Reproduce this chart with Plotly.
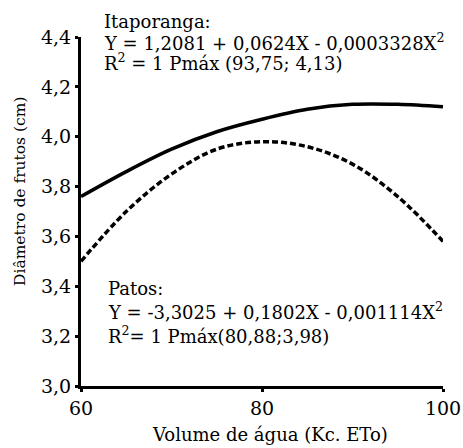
import plotly.graph_objects as go

volume = [60, 65, 70, 75, 80, 85, 90, 95, 100]
itaporanga = [3.76, 3.86, 3.95, 4.02, 4.07, 4.11, 4.13, 4.13, 4.12]
patos = [3.50, 3.70, 3.85, 3.95, 3.98, 3.96, 3.89, 3.76, 3.58]
x_ticks = [60, 80, 100]
y_ticks = [3.0, 3.2, 3.4, 3.6, 3.8, 4.0, 4.2, 4.4]

FONT = "DejaVu Serif"
L, R, T, B = 81, 443, 37, 386  # plot area in pixels

def px(xp, yp):
    return (xp - L) / (R - L), (B - yp) / (B - T)

fig = go.Figure()
fig.add_trace(go.Scatter(x=volume, y=itaporanga, mode="lines", line_shape="spline",
                         line=dict(color="black", width=3.5), showlegend=False, hoverinfo="skip"))
fig.add_trace(go.Scatter(x=volume, y=patos, mode="lines", line_shape="spline",
                         line=dict(color="black", width=3.5, dash="6px,3px"), showlegend=False, hoverinfo="skip"))

fig.update_layout(
    template="none",
    width=463, height=448,
    margin=dict(l=L, r=463 - R, t=T, b=448 - B, pad=0),
    paper_bgcolor="white", plot_bgcolor="white",
    separators=",.",
    font=dict(family=FONT, color="black", size=17),
    xaxis=dict(range=[60, 100], tickvals=x_ticks, showgrid=False, zeroline=False, automargin=False,
               showline=True, linecolor="black", linewidth=3,
               ticks="outside", ticklen=3, tickwidth=3, tickcolor="black",
               tickfont=dict(size=19, family=FONT)),
    yaxis=dict(range=[3.0, 4.4], tickvals=y_ticks, tickformat=".1f", showgrid=False, zeroline=False, automargin=False,
               showline=True, linecolor="black", linewidth=3,
               ticks="outside", ticklen=3, tickwidth=3, tickcolor="black",
               tickfont=dict(size=19, family=FONT)),
)

# axis titles
x, y = px(270, 434)
fig.add_annotation(text="Volume de água (Kc. ETo)", xref="paper", yref="paper", x=x, y=y,
                   xanchor="center", yanchor="middle", showarrow=False,
                   font=dict(size=18, family=FONT, color="black"))
x, y = px(20, 192)
fig.add_annotation(text="Diâmetro de frutos (cm)", xref="paper", yref="paper", x=x, y=y,
                   xanchor="center", yanchor="middle", showarrow=False, textangle=-90,
                   font=dict(size=15.5, family=FONT, color="black"))

ann = [
    ("Itaporanga:", 102, 21),
    ("Y = 1,2081 + 0,0624X - 0,0003328X<sup>2</sup>", 102, 42),
    ("R<sup>2</sup> = 1 Pmáx (93,75; 4,13)", 102, 62),
    ("Patos:", 106, 288),
    ("Y = -3,3025 + 0,1802X - 0,001114X<sup>2</sup>", 106, 311),
    ("R<sup>2</sup>= 1 Pmáx(80,88;3,98)", 106, 335),
]
for txt, xp, yp in ann:
    x, y = px(xp, yp)
    fig.add_annotation(text=txt, xref="paper", yref="paper", x=x, y=y,
                       xanchor="left", yanchor="middle", showarrow=False,
                       font=dict(size=18, family=FONT, color="black"))

fig.write_html("out.html", config={"displayModeBar": False},
               post_script="document.body.style.margin='0';document.body.style.overflow='hidden';")
